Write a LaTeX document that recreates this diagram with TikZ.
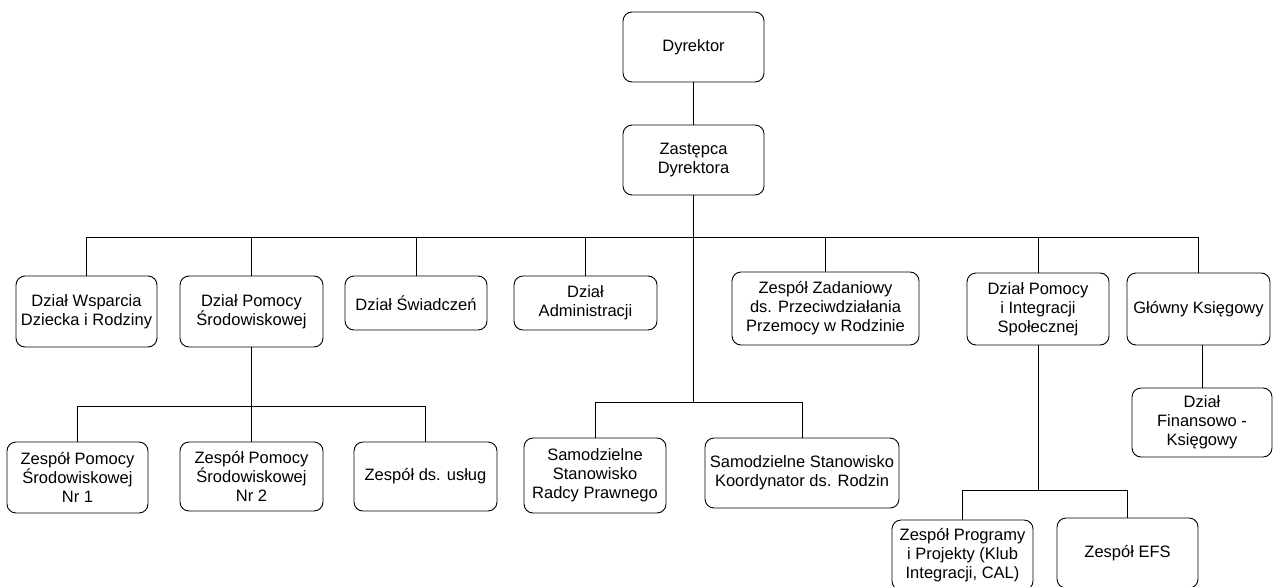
\documentclass[tikz,border=0pt]{standalone}
\usepackage{fontspec}
\setmainfont{Liberation Sans}

\begin{document}
\begin{tikzpicture}[x=1pt, y=-1pt,
  orgbox/.style={draw=black, line width=0.9pt, rounded corners=9pt, fill=white, align=center, inner sep=1pt, font=\fontsize{16.5}{19}\selectfont},
  link/.style={draw=black, line width=0.9pt}]
  \useasboundingbox (0,0) rectangle (1273,586);
  % top
  \node[orgbox, minimum width=141pt, minimum height=70pt] (dyr) at (693.5,47) {Dyrektor};
  \node[orgbox, minimum width=141pt, minimum height=70pt] (zast) at (693.5,160) {Zastępca\\Dyrektora};
  % first level
  \node[orgbox, minimum width=141pt, minimum height=71pt] (wsp) at (86.5,311.5) {Dział Wsparcia\\Dziecka i Rodziny};
  \node[orgbox, minimum width=143pt, minimum height=71pt] (pom) at (251.5,311.5) {Dział Pomocy\\Środowiskowej};
  \node[orgbox, minimum width=142pt, minimum height=54pt] (swi) at (416,303) {Dział Świadczeń};
  \node[orgbox, minimum width=143pt, minimum height=54pt] (adm) at (585.5,303) {Dział\\Administracji};
  \node[orgbox, minimum width=187pt, minimum height=73pt] (zad) at (825.5,308.5) {Zespół Zadaniowy\\ds. Przeciwdziałania\\Przemocy w Rodzinie};
  \node[orgbox, minimum width=142pt, minimum height=72pt] (pis) at (1038,309) {Dział Pomocy\\i Integracji\\Społecznej};
  \node[orgbox, minimum width=143pt, minimum height=72pt] (glo) at (1198.5,309) {Główny Księgowy};
  \node[orgbox, minimum width=140pt, minimum height=69pt] (fin) at (1202,422.5) {Dział\\Finansowo -\\Księgowy};
  % second level
  \node[orgbox, minimum width=141pt, minimum height=71pt] (zp1) at (77.5,477.5) {Zespół Pomocy\\Środowiskowej\\Nr 1};
  \node[orgbox, minimum width=143pt, minimum height=69pt] (zp2) at (251.5,476.5) {Zespół Pomocy\\Środowiskowej\\Nr 2};
  \node[orgbox, minimum width=143pt, minimum height=69pt] (zus) at (425.5,476.5) {Zespół ds. usług};
  \node[orgbox, minimum width=142pt, minimum height=75pt] (rad) at (595,475.5) {Samodzielne\\Stanowisko\\Radcy Prawnego};
  \node[orgbox, minimum width=194pt, minimum height=70pt] (koo) at (802,473) {Samodzielne Stanowisko\\Koordynator ds. Rodzin};
  \node[orgbox, minimum width=141pt, minimum height=70pt] (prog) at (962.5,555) {Zespół Programy\\i Projekty (Klub\\Integracji, CAL)};
  \node[orgbox, minimum width=141pt, minimum height=70pt] (efs) at (1127.5,553) {Zespół EFS};
  % connectors
  \draw[link] (dyr.south) -- (zast.north);
  \coordinate (bus) at (0,237);
  \foreach \dzial in {wsp,pom,swi,adm,zad,pis,glo}
    \draw[link] (zast.south) -- (zast.south |- bus) -| (\dzial.north);
  \coordinate (busR) at (0,402);
  \foreach \stan in {rad,koo}
    \draw[link] (zast.south) -- (zast.south |- busR) -| (\stan.north);
  \coordinate (busS) at (0,406);
  \foreach \zesp in {zp1,zp2,zus}
    \draw[link] (pom.south) -- (pom.south |- busS) -| (\zesp.north);
  \coordinate (busE) at (0,490);
  \foreach \zesp in {prog,efs}
    \draw[link] (pis.south) -- (pis.south |- busE) -| (\zesp.north);
  \draw[link] (fin.north) -- (fin.north |- glo.south);
\end{tikzpicture}
\end{document}
